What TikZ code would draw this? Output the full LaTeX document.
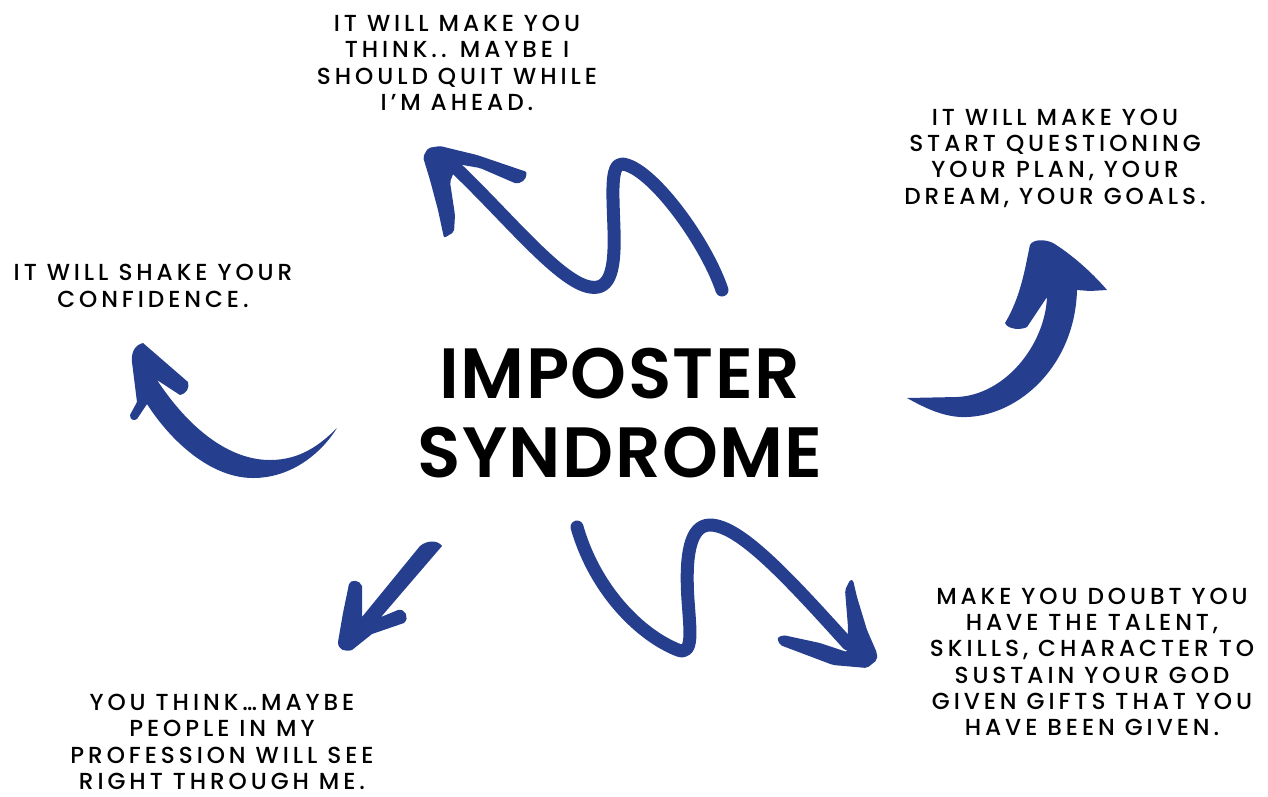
\documentclass[tikz,border=0pt]{standalone}
\usepackage{fontspec}
\setmainfont{Poppins}
\newfontfamily\lblfont[LetterSpace=17,UprightFont={* Medium}]{Poppins}
\newfontfamily\ttlfont[LetterSpace=2,UprightFont={* SemiBold}]{Poppins}
\definecolor{ab}{RGB}{38,62,142}
\tikzset{
  lbl/.style={align=center, inner sep=0pt, text=black, font=\lblfont\fontsize{13.2}{15}\selectfont},
  ttl/.style={align=center, inner sep=0pt, text=black, font=\ttlfont\fontsize{40.5}{45}\selectfont},
  shaft/.style={draw=ab, line width=7.4pt, line cap=round, line join=round},
  head/.style={fill=ab, rounded corners=1.2pt}
}
\begin{document}
\begin{tikzpicture}[x=0.02cm,y=-0.02cm]
\useasboundingbox (0,0) rectangle (1268,796);
% title
\node[ttl] (t1) at (620,374) {IMPOSTER};
\node[ttl] (t2) at (620,453) {SYNDROME};
% labels
\node[lbl] (quit) at (457,63) {IT WILL MAKE YOU\\THINK.. MAYBE I\\SHOULD QUIT WHILE\\I’M AHEAD.};
\node[lbl] (plan) at (1055,158) {IT WILL MAKE YOU\\START QUESTIONING\\YOUR PLAN, YOUR\\DREAM, YOUR GOALS.};
\node[lbl] (conf) at (153,286) {IT WILL SHAKE YOUR\\CONFIDENCE.};
\node[lbl] (prof) at (222,742) {YOU THINK…MAYBE\\PEOPLE IN MY\\PROFESSION WILL SEE\\RIGHT THROUGH ME.};
\node[lbl] (doubt) at (1092,662) {MAKE YOU DOUBT YOU\\HAVE THE TALENT,\\SKILLS, CHARACTER TO\\SUSTAIN YOUR GOD\\GIVEN GIFTS THAT YOU\\HAVE BEEN GIVEN.};
% arrow 1 (top, squiggle)
\draw[shaft] (458,170) .. controls (510,220) and (560,282) .. (590,287)
  .. controls (612,291) and (615,265) .. (614,230)
  .. controls (613,195) and (610,164) .. (622,164)
  .. controls (650,166) and (705,240) .. (722,290);
\fill[head] (423,157) -- (428,148) -- (440,146) -- (477,155) -- (527,172) -- (525,180) -- (517,184)
  -- (480,168) -- (457,164) -- (450,182) -- (455,215) -- (454,232) -- (444,238) -- (438,210) -- (430,180) -- cycle;
% arrow 2 (top right)
\fill[ab] (907,398) .. controls (925,408) and (945,418) .. (967,417)
  .. controls (1020,415) and (1075,365) .. (1077,290) -- (1090,291) -- (1107,290)
  .. controls (1090,270) and (1068,252) .. (1053,243)
  .. controls (1045,239) and (1033,239) .. (1030,245)
  .. controls (1026,262) and (1022,295) .. (1005,323)
  .. controls (1008,330) and (1022,330) .. (1027,327) -- (1047,297)
  .. controls (1045,345) and (1005,395) .. (957,397) -- (907,398) -- cycle;
% arrow 3 (left)
\fill[ab] (337,428) .. controls (320,445) and (300,460) .. (270,460)
  .. controls (230,460) and (190,430) .. (157,380) -- (180,395)
  .. controls (186,394) and (190,388) .. (188,382) -- (143,343)
  .. controls (135,345) and (131,352) .. (132,362) -- (137,402) -- (130,415)
  .. controls (130,420) and (134,421) .. (137,419) -- (147,404)
  .. controls (170,440) and (210,478) .. (253,478)
  .. controls (290,478) and (320,455) .. (337,428) -- cycle;
% arrow 4 (bottom left)
\fill[ab] (338,642) -- (343,613) -- (349,584) .. controls (351,579) and (360,580) .. (362,586)
  -- (362,617) -- (420,546) .. controls (427,540) and (438,540) .. (442,546)
  -- (381,617) -- (398,610) .. controls (405,608) and (410,618) .. (404,623)
  -- (372,634) -- (352,650) .. controls (345,652) and (338,650) .. (338,642) -- cycle;
% arrow 5 (bottom right, squiggle)
\draw[shaft] (577,527) .. controls (595,590) and (640,635) .. (678,650)
  .. controls (694,656) and (690,630) .. (688,600)
  .. controls (685,555) and (690,525) .. (710,525)
  .. controls (740,525) and (790,580) .. (848,644);
\fill[head] (877,660) -- (867,668) -- (833,665) -- (780,645) -- (777,638) -- (783,635) -- (820,643)
  -- (847,652) -- (848,627) -- (845,590) -- (850,580) -- (853,580) -- (857,597) -- (867,630) -- (877,653) -- cycle;
\end{tikzpicture}
\end{document}
